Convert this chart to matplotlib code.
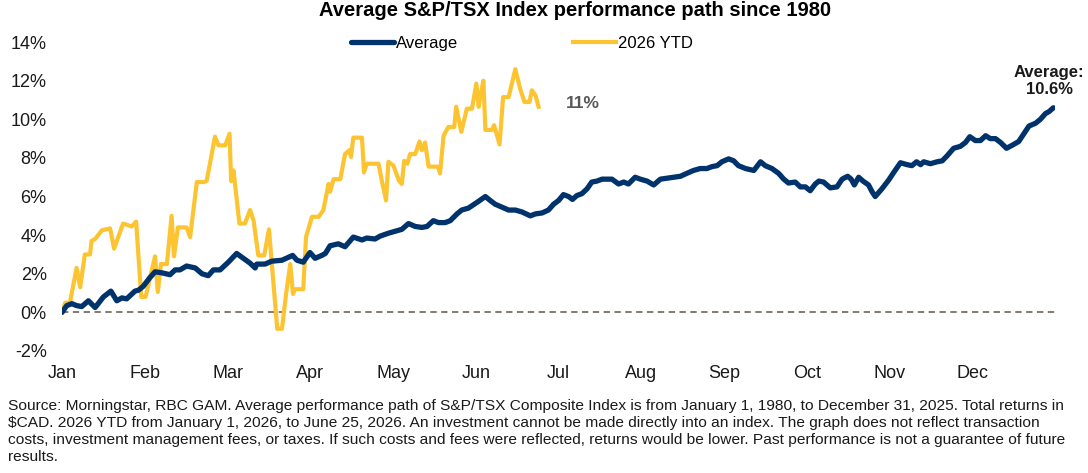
import matplotlib
matplotlib.use("Agg")
from matplotlib import pyplot as plt
from matplotlib.ticker import FuncFormatter

# trading day of the year / cumulative return in %
avg_day = [0, 1.2, 2.5, 3.7, 5.0, 6.7, 8.4, 10.5, 12.4, 13.9, 15.2, 16.4, 18.5, 19.4, 20.6,
           22.3, 23.6, 25.3, 27.4, 28.7, 29.9, 31.6, 33.8, 35.5, 37.1, 38.4, 40.1, 42.2,
           44.3, 46.0, 47.7, 49.0, 49.4, 51.5, 53.2, 55.8, 57.4, 58.5, 59.6, 61.2, 62.9,
           64.2, 65.9, 66.8, 68.0, 70.1, 71.8, 73.9, 76.1, 77.3, 79.4, 80.7, 82.8, 84.5,
           86.2, 87.9, 89.6, 91.3, 92.6, 94.2, 95.5, 97.2, 98.5, 100.2, 101.4, 103.1,
           105.3, 107.4, 108.6, 109.9, 111.6, 113.3, 115.0, 116.7, 118.8, 120.1, 121.8,
           123.4, 124.7, 126.0, 127.2, 128.5, 129.5, 130.6, 131.9, 133.2, 134.4, 135.7,
           137.0, 138.2, 139.5, 141.2, 142.5, 143.7, 145.4, 146.7, 148.4, 150.1, 151.8,
           153.5, 155.2, 156.9, 158.5, 160.2, 161.9, 163.6, 164.9, 166.2, 167.4, 169.1,
           170.4, 171.6, 173.4, 175.5, 177.2, 178.4, 180.1, 181.8, 183.1, 184.3, 186.0,
           187.3, 188.6, 189.8, 191.1, 192.0, 193.2, 194.9, 196.6, 197.9, 199.3, 200.2,
           201.0, 202.1, 203.2, 204.6, 205.5, 206.3, 208.0, 209.7, 211.0, 212.7, 214.4,
           215.6, 216.8, 217.8, 218.6, 220.3, 222.0, 223.3, 224.5, 226.2, 227.9, 229.2,
           230.3, 231.7, 233.0, 234.3, 235.5, 236.8, 238.1, 239.6, 241.0, 242.7, 244.0,
           245.3, 247.0, 248.2, 249.5, 250.4, 251.5]
avg_ret = [0, 0.35, 0.45, 0.35, 0.3, 0.6, 0.25, 0.8, 1.1, 0.6, 0.75, 0.7, 1.1, 1.15, 1.35,
           1.8, 2.1, 2.05, 1.95, 2.2, 2.2, 2.4, 2.3, 2.0, 1.9, 2.2, 2.2, 2.6,
           3.05, 2.8, 2.55, 2.3, 2.5, 2.5, 2.65, 2.7, 2.85, 2.95, 2.7, 2.6, 3.1,
           2.8, 2.95, 3.05, 3.45, 3.55, 3.4, 3.9, 3.75, 3.85, 3.8, 3.95, 4.1, 4.2,
           4.3, 4.6, 4.45, 4.4, 4.45, 4.75, 4.65, 4.65, 4.75, 5.1, 5.3, 5.4,
           5.7, 6.0, 5.8, 5.6, 5.45, 5.3, 5.3, 5.2, 5.0, 5.1, 5.15,
           5.3, 5.6, 5.8, 6.1, 6.0, 5.85, 6.05, 6.15, 6.4, 6.75, 6.8,
           6.9, 6.9, 6.9, 6.65, 6.75, 6.65, 7.0, 6.9, 6.8, 6.6, 6.9,
           6.95, 7.0, 7.05, 7.2, 7.35, 7.45, 7.45, 7.55, 7.6, 7.8, 7.95,
           7.85, 7.6, 7.45, 7.35, 7.8, 7.6, 7.45, 7.2, 6.9, 6.7, 6.75,
           6.5, 6.5, 6.3, 6.65, 6.8, 6.75, 6.45, 6.5, 6.9, 7.05, 6.9,
           6.6, 7.0, 6.8, 6.6, 6.25, 6.0, 6.4, 6.85, 7.25, 7.75, 7.65,
           7.6, 7.8, 7.65, 7.8, 7.7, 7.8, 7.85, 8.1, 8.5, 8.6, 8.8,
           9.1, 8.9, 8.9, 9.15, 9.0, 9.0, 8.8, 8.5, 8.65, 8.85, 9.25,
           9.65, 9.8, 10.0, 10.3, 10.4, 10.6]

ytd_day = [0, 0.8, 2.0, 3.7, 4.6, 5.8, 7.1, 7.5, 8.4, 10.1, 12.2, 13.2, 15.5, 17.7, 18.8,
           20.1, 21.2, 23.6, 24.3, 25.1, 26.6, 27.8, 28.4, 29.4, 31.6, 32.5, 34.2, 35.9,
           36.7, 38.8, 39.7, 41.4, 42.5, 42.9, 43.5, 45.0, 46.4, 47.7, 48.6, 49.8, 51.3,
           52.5, 54.6, 55.8, 56.9, 57.9, 58.6, 59.1, 61.2, 61.9, 63.4, 65.1, 66.3, 67.6,
           68.0, 68.9, 70.6, 71.8, 72.9, 73.3, 73.9, 76.1, 76.6, 77.3, 80.3, 81.1, 82.2,
           82.8, 84.1, 85.4, 86.2, 86.8, 87.6, 88.3, 89.6, 90.7, 91.3, 92.1, 93.0, 95.3,
           95.9, 96.8, 98.0, 99.5, 100.0, 101.3, 102.7, 104.0, 105.1, 105.7, 106.3, 106.9,
           107.4, 109.1, 109.6, 111.0, 111.9, 113.3, 115.0, 116.2, 117.3, 118.6, 119.2,
           120.1, 120.9]
ytd_ret = [0, 0.5, 0.5, 2.3, 1.3, 3.0, 3.0, 3.7, 3.8, 4.25, 4.35, 3.3, 4.6, 4.45, 4.7,
           0.8, 0.8, 2.9, 1.05, 2.5, 2.5, 5.0, 2.9, 4.4, 4.4, 3.9, 6.75, 6.75,
           6.8, 9.1, 8.65, 8.65, 9.25, 6.8, 7.35, 4.6, 4.6, 5.3, 4.75, 2.95, 2.95,
           4.3, -0.85, -0.85, 1.05, 2.5, 0.95, 1.2, 1.2, 3.9, 4.95, 4.95, 5.3, 6.65,
           6.25, 6.9, 6.9, 8.2, 8.4, 8.05, 9.05, 9.05, 7.25, 7.7, 7.7, 6.85, 5.8,
           7.8, 7.6, 6.85, 6.65, 7.85, 7.7, 8.2, 8.2, 8.85, 8.4, 8.8, 7.55, 7.55,
           7.2, 9.15, 9.6, 9.6, 10.65, 9.35, 10.55, 10.55, 11.85, 10.65, 11.4, 12.0,
           9.45, 9.45, 9.7, 8.7, 11.15, 11.15, 12.6, 11.6, 10.9, 10.9, 11.5,
           11.25, 10.65]

months = ['Jan', 'Feb', 'Mar', 'Apr', 'May', 'Jun', 'Jul', 'Aug', 'Sep', 'Oct', 'Nov', 'Dec']
month_day = [0, 21, 42, 63, 84, 105, 126, 147, 168, 189, 210, 231]

navy = '#00336b'
gold = '#fdc431'

plt.rcParams['font.family'] = ['Liberation Sans', 'DejaVu Sans']

fig = plt.figure(figsize=(10.88, 4.73), dpi=100)
ax = fig.add_axes([0.057, 0.258, 0.913, 0.653])

ax.axhline(0, color='#7a6f62', linestyle=(0, (3.5, 2.5)), linewidth=1.3, zorder=1)
ax.plot(avg_day, avg_ret, color=navy, linewidth=3.8, solid_capstyle='round',
        solid_joinstyle='round', label='Average', zorder=3)
ax.plot(ytd_day, ytd_ret, color=gold, linewidth=3.0, solid_joinstyle='round',
        label='2026 YTD', zorder=2)

ax.set_xlim(0, 252)
ax.set_ylim(-2, 14)
ax.set_yticks(range(-2, 15, 2))
ax.yaxis.set_major_formatter(FuncFormatter(lambda v, p: f'{v:.0f}%'))
ax.set_xticks(month_day)
ax.set_xticklabels(months)
ax.tick_params(axis='both', length=0, labelsize=13, colors='#1a1a1a')
ax.tick_params(axis='y', pad=11)
ax.tick_params(axis='x', pad=10)
for s in ax.spines.values():
    s.set_visible(False)

# Oznake koncnih vrednosti
ax.annotate('11%', xy=(ytd_day[-1], ytd_ret[-1]), xytext=(20, 2), textcoords='offset points',
            ha='left', va='center', fontsize=12.5, fontweight='bold', color='#595959')
ax.annotate('Average:\n10.6%', xy=(avg_day[-1], avg_ret[-1]), xytext=(-3, 8),
            textcoords='offset points', ha='center', va='bottom', fontsize=12,
            fontweight='bold', color='#1a1a1a', annotation_clip=False, linespacing=1.1)

fig.suptitle('Average S&P/TSX Index performance path since 1980', x=575 / 1088, y=0.998,
             fontsize=14.5, fontweight='bold', va='top')
fig.legend(loc='center', bbox_to_anchor=(522 / 1088, 0.909), ncol=2, frameon=False,
           fontsize=12, handlelength=2.6, handletextpad=0.1, columnspacing=6.9)

footer = ('Source: Morningstar, RBC GAM. Average performance path of S&P/TSX Composite Index is from '
          'January 1, 1980, to December 31, 2025. Total returns in\n'
          '$CAD. 2026 YTD from January 1, 2026, to June 25, 2026. An investment cannot be made directly '
          'into an index. The graph does not reflect transaction\n'
          'costs, investment management fees, or taxes. If such costs and fees were reflected, returns '
          'would be lower. Past performance is not a guarantee of future\n'
          'results.')
fig.text(8 / 1088, 1 - 399 / 473, footer, ha='left', va='top', fontsize=11.15,
         linespacing=1.28, color='#1a1a1a')

plt.savefig('out.png', dpi=100)
